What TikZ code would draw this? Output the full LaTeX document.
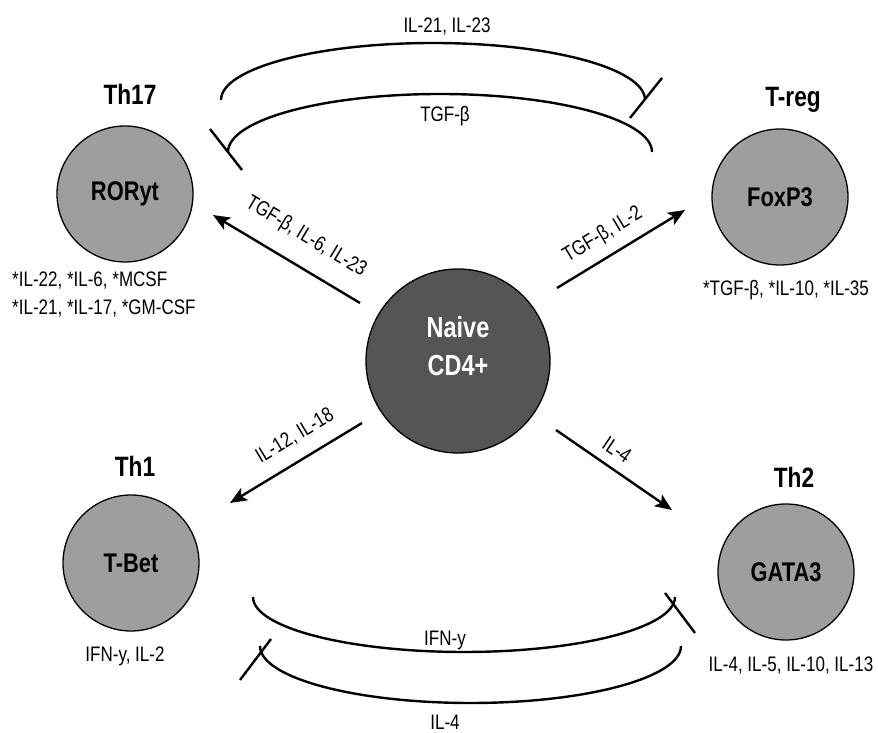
\documentclass[tikz,border=0pt]{standalone}
\usepackage{fontspec}
\setmainfont[FakeStretch=0.81]{Liberation Sans}
\usetikzlibrary{arrows.meta}
\definecolor{cellgray}{HTML}{9E9E9E}
\definecolor{naivegray}{HTML}{555555}
\begin{document}
\begin{tikzpicture}[x=1pt,y=1pt,
  cell/.style={circle, draw=black, line width=1.3pt, fill=cellgray, minimum size=136pt, inner sep=0pt, font=\bfseries\fontsize{27}{30}\selectfont},
  naivecell/.style={circle, draw=black, line width=1.3pt, fill=naivegray, minimum size=184pt, inner sep=0pt, text=white, align=center, font=\bfseries\fontsize{29}{38}\selectfont},
  title/.style={anchor=base, inner sep=0pt, font=\bfseries\fontsize{28}{30}\selectfont},
  lbl/.style={inner sep=0pt, font=\fontsize{21}{28}\selectfont},
  arr/.style={line width=2.4pt, -{Stealth[length=17pt,width=14pt,inset=4pt]}},
  inh/.style={line width=2.4pt}]
\useasboundingbox (0,0) rectangle (878,733);

% cells
\node[naivecell] (naive) at (458,372) {Naive\\CD4+\\[-8pt]};
\node[cell] (rorc) at (125,539) {RORyt};
\node[cell] (foxp3) at (780,536) {FoxP3};
\node[cell] (tbet) at (131,170) {T-Bet};
\node[cell] (gata3) at (786,161) {GATA3};

% titles
\node[title] (th17) at (130,628) {Th17};
\node[title] (treg) at (793,626) {T-reg};
\node[title] (th1) at (135,256) {Th1};
\node[title] (th2) at (794,245) {Th2};

% cytokine lists
\node[lbl, anchor=base west, align=left] (l17) at (12,418) {*IL-22, *IL-6, *MCSF\\*IL-21, *IL-17, *GM-CSF};
\node[lbl, anchor=base] (lreg) at (786,437) {*TGF-β, *IL-10, *IL-35};
\node[lbl, anchor=base] (l1) at (125,71) {IFN-y, IL-2};
\node[lbl, anchor=base] (l2) at (791,61) {IL-4, IL-5, IL-10, IL-13};

% differentiation arrows
\coordinate (a1s) at (360,430); \coordinate (a1e) at (213,518);
\coordinate (a2s) at (557,445); \coordinate (a2e) at (685,523);
\coordinate (a3s) at (362,310); \coordinate (a3e) at (230,230);
\coordinate (a4s) at (556,303); \coordinate (a4e) at (672,223);
\draw[arr] (a1s) -- (a1e);
\draw[arr] (a2s) -- (a2e);
\draw[arr] (a3s) -- (a3e);
\draw[arr] (a4s) -- (a4e);
\node[lbl, rotate=-31] (t1) at (306,496) {TGF-β, IL-6, IL-23};
\node[lbl, rotate=31] (t2) at (603,498) {TGF-β, IL-2};
\node[lbl, rotate=31] (t3) at (295,297) {IL-12, IL-18};
\node[lbl, rotate=-34] (t4) at (617,283) {IL-4};

% inhibition arcs (top)
\coordinate (cA) at (221,633);
\draw[inh] (cA) arc[start angle=180, end angle=0, x radius=212, y radius=57];
\coordinate (bA1) at (630,615); \coordinate (bA2) at (662,655);
\draw[inh] (bA1) -- (bA2);
\coordinate (cB) at (652,581);
\draw[inh] (cB) arc[start angle=0, end angle=180, x radius=212, y radius=58];
\coordinate (bB1) at (210,604); \coordinate (bB2) at (242,563);
\draw[inh] (bB1) -- (bB2);
\node[lbl, anchor=base] (tA) at (447,700) {IL-21, IL-23};
\node[lbl, anchor=base] (tB) at (445,611) {TGF-β};

% inhibition arcs (bottom)
\coordinate (cC) at (253,136);
\draw[inh] (cC) arc[start angle=180, end angle=360, x radius=211, y radius=55];
\coordinate (bC1) at (665,140); \coordinate (bC2) at (695,100);
\draw[inh] (bC1) -- (bC2);
\coordinate (cD) at (681,87);
\draw[inh] (cD) arc[start angle=0, end angle=-180, x radius=210.5, y radius=57];
\coordinate (bD1) at (240,53); \coordinate (bD2) at (271,94);
\draw[inh] (bD1) -- (bD2);
\node[lbl, anchor=base] (tC) at (445,87) {IFN-y};
\node[lbl, anchor=base] (tD) at (445,3) {IL-4};
\end{tikzpicture}
\end{document}
